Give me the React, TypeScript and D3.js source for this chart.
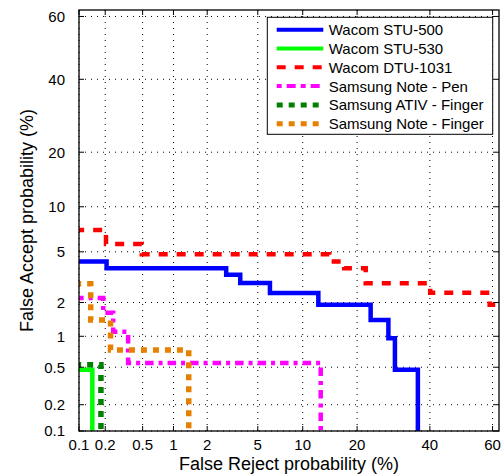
import React, { useEffect, useRef } from 'react';
import * as d3 from 'd3';

// tick values, in percent
const xTicks = [0.1, 0.2, 0.5, 1, 2, 5, 10, 20, 40, 60];
const yTicks = [0.1, 0.2, 0.5, 1, 2, 5, 10, 20, 40, 60];

// staircase corners (FRR %, FAR %), drawn with curveStepAfter
const stu500Frr = [0.09, 0.207, 2.87, 3.7, 6.1, 12.4, 23.2, 27.8, 29.6, 36.3];
const stu500Far = [4.24, 3.78, 3.36, 2.89, 2.4, 1.91, 1.41, 0.96, 0.47, 0.05];

const stu530Frr = [0.09, 0.143];
const stu530Far = [0.47, 0.05];

const dtu1031Frr = [0.09, 0.204, 0.49, 14.3, 17.2, 22.0, 40.1, 59.1, 70];
const dtu1031Far = [7.1, 5.69, 4.79, 4.25, 3.78, 2.88, 2.41, 1.91, 1.91];

const notePenFrr = [0.09, 0.19, 0.245, 0.354, 12.8];
const notePenFar = [2.18, 1.63, 1.1, 0.55, 0.05];

const ativFingerFrr = [0.09, 0.179];
const ativFingerFar = [0.53, 0.05];

const noteFingerFrr = [0.09, 0.137, 0.229, 1.38];
const noteFingerFar = [2.85, 1.41, 0.74, 0.05];

const seriesNames = [
  'Wacom STU-500',
  'Wacom STU-530',
  'Wacom DTU-1031',
  'Samsung Note - Pen',
  'Samsung ATIV - Finger',
  'Samsung Note - Finger'
];

// inverse normal CDF (Acklam)
const probit = (p: number) => {
  const a = [-39.69683028665376, 220.9460984245205, -275.9285104469687, 138.357751867269, -30.66479806614716, 2.506628277459239];
  const b = [-54.47609879822406, 161.5858368580409, -155.6989798598866, 66.80131188771972, -13.28068155288572];
  const c = [-0.007784894002430293, -0.3223964580411365, -2.400758277161838, -2.549732539343734, 4.374664141464968, 2.938163982698783];
  const d = [0.007784695709041462, 0.3224671290700398, 2.445134137142996, 3.754408661907416];
  const pl = 0.02425;
  let q, r;
  if (p < pl) {
    q = Math.sqrt(-2 * Math.log(p));
    return (((((c[0] * q + c[1]) * q + c[2]) * q + c[3]) * q + c[4]) * q + c[5]) /
      ((((d[0] * q + d[1]) * q + d[2]) * q + d[3]) * q + 1);
  }
  if (p <= 1 - pl) {
    q = p - 0.5;
    r = q * q;
    return (((((a[0] * r + a[1]) * r + a[2]) * r + a[3]) * r + a[4]) * r + a[5]) * q /
      (((((b[0] * r + b[1]) * r + b[2]) * r + b[3]) * r + b[4]) * r + 1);
  }
  q = Math.sqrt(-2 * Math.log(1 - p));
  return -(((((c[0] * q + c[1]) * q + c[2]) * q + c[3]) * q + c[4]) * q + c[5]) /
    ((((d[0] * q + d[1]) * q + d[2]) * q + d[3]) * q + 1);
};

const width = 503;
const height = 474;
const margin = { top: 10, right: 4, bottom: 43, left: 79 };

const DetChart = () => {
  const svgRef = useRef<SVGSVGElement>(null);

  useEffect(() => {
    const svg = d3.select(svgRef.current);
    svg.selectAll('*').remove();

    const x0 = margin.left;
    const x1 = width - margin.right;
    const y0 = height - margin.bottom;
    const y1 = margin.top;

    const xLin = d3.scaleLinear().domain([probit(0.001), probit(0.62)]).range([x0, x1]);
    const yLin = d3.scaleLinear().domain([probit(0.001), probit(0.62)]).range([y0, y1]);
    const x = (v: number) => xLin(probit(v / 100));
    const y = (v: number) => yLin(probit(v / 100));

    const font = 'Liberation Sans, Arial, Helvetica, sans-serif';

    svg.append('rect')
      .attr('x', x0).attr('y', y1)
      .attr('width', x1 - x0).attr('height', y0 - y1)
      .attr('fill', '#fff');

    svg.append('clipPath').attr('id', 'plot-clip')
      .append('rect')
      .attr('x', x0).attr('y', y1)
      .attr('width', x1 - x0).attr('height', y0 - y1);

    // Grid
    const grid = svg.append('g');
    grid.selectAll('.vgrid')
      .data(xTicks)
      .enter()
      .append('line')
      .attr('x1', d => x(d)).attr('x2', d => x(d))
      .attr('y1', y1).attr('y2', y0)
      .attr('stroke', '#000')
      .attr('stroke-width', 1)
      .attr('stroke-dasharray', '1,5');
    grid.selectAll('.hgrid')
      .data(yTicks)
      .enter()
      .append('line')
      .attr('y1', d => y(d)).attr('y2', d => y(d))
      .attr('x1', x0).attr('x2', x1)
      .attr('stroke', '#000')
      .attr('stroke-width', 1)
      .attr('stroke-dasharray', '1,5');

    // Curves
    const series = [
      { frr: stu500Frr, far: stu500Far, color: '#0000ff', dash: null, w: 4.5 },
      { frr: stu530Frr, far: stu530Far, color: '#00ff00', dash: null, w: 4.5 },
      { frr: dtu1031Frr, far: dtu1031Far, color: '#ff0000', dash: '9,9', w: 4.5 },
      { frr: notePenFrr, far: notePenFar, color: '#ff00ff', dash: '8.5,5,4,5', w: 4.5 },
      { frr: ativFingerFrr, far: ativFingerFar, color: '#008000', dash: '6,6', w: 5.5 },
      { frr: noteFingerFrr, far: noteFingerFar, color: '#e68000', dash: '6,6', w: 5.5 }
    ];

    const line = d3.line<[number, number]>()
      .x(d => x(d[0]))
      .y(d => y(d[1]))
      .curve(d3.curveStepAfter);

    const curves = svg.append('g').attr('clip-path', 'url(#plot-clip)');
    series.forEach(s => {
      const pts = s.frr.map((f, i) => [f, s.far[i]] as [number, number]);
      curves.append('path')
        .attr('d', line(pts))
        .attr('fill', 'none')
        .attr('stroke', s.color)
        .attr('stroke-width', s.w)
        .attr('stroke-dasharray', s.dash)
        .attr('stroke-linejoin', 'miter');
    });

    // Box and ticks
    svg.append('rect')
      .attr('x', x0).attr('y', y1)
      .attr('width', x1 - x0).attr('height', y0 - y1)
      .attr('fill', 'none')
      .attr('stroke', '#000')
      .attr('stroke-width', 1.3);

    const tl = 5;
    const ticks = svg.append('g').attr('stroke', '#000').attr('stroke-width', 1);
    xTicks.forEach(t => {
      ticks.append('line').attr('x1', x(t)).attr('x2', x(t)).attr('y1', y0).attr('y2', y0 - tl);
      ticks.append('line').attr('x1', x(t)).attr('x2', x(t)).attr('y1', y1).attr('y2', y1 + tl);
    });
    yTicks.forEach(t => {
      ticks.append('line').attr('y1', y(t)).attr('y2', y(t)).attr('x1', x0).attr('x2', x0 + tl);
      ticks.append('line').attr('y1', y(t)).attr('y2', y(t)).attr('x1', x1).attr('x2', x1 - tl);
    });

    // Tick labels
    svg.selectAll('.xlab')
      .data(xTicks)
      .enter()
      .append('text')
      .attr('x', d => x(d))
      .attr('y', 450)
      .attr('text-anchor', 'middle')
      .style('font-family', font)
      .style('font-size', '15px')
      .style('fill', '#000')
      .text(d => String(d));

    svg.selectAll('.ylab')
      .data(yTicks)
      .enter()
      .append('text')
      .attr('x', 65)
      .attr('y', d => y(d))
      .attr('dy', '0.36em')
      .attr('text-anchor', 'end')
      .style('font-family', font)
      .style('font-size', '15px')
      .style('fill', '#000')
      .text(d => String(d));

    // Axis titles
    svg.append('text')
      .attr('x', (x0 + x1) / 2)
      .attr('y', 470)
      .attr('text-anchor', 'middle')
      .style('font-family', font)
      .style('font-size', '18px')
      .style('fill', '#000')
      .text('False Reject probability (%)');

    svg.append('text')
      .attr('transform', `translate(32.5, ${(y0 + y1) / 2}) rotate(-90)`)
      .attr('text-anchor', 'middle')
      .style('font-family', font)
      .style('font-size', '18px')
      .style('fill', '#000')
      .text('False Accept probability (%)');

    // Legend
    const legend = svg.append('g');
    legend.append('rect')
      .attr('x', 267.3).attr('y', 17.3)
      .attr('width', 225.4).attr('height', 117)
      .attr('fill', '#fff')
      .attr('stroke', '#000')
      .attr('stroke-width', 1);

    const legendDash = ['', '', '9,9', '5,5,9,5', '6,6', '6,6'];
    const items = legend.selectAll('.legend-item')
      .data(series)
      .enter()
      .append('g')
      .attr('transform', (d, i) => `translate(0, ${29.7 + i * 18.8})`);

    items.append('line')
      .attr('x1', 276.7).attr('x2', 323.3)
      .attr('y1', 0).attr('y2', 0)
      .attr('stroke', d => d.color)
      .attr('stroke-width', d => d.w - 0.5)
      .attr('stroke-dasharray', (d, i) => legendDash[i] || null);

    items.append('text')
      .attr('x', 328.7)
      .attr('y', 0)
      .attr('dy', '0.36em')
      .style('font-family', font)
      .style('font-size', '15px')
      .style('fill', '#000')
      .text((d, i) => seriesNames[i]);
  }, []);

  return (
    <svg
      ref={svgRef}
      width={width}
      height={height}
      style={{ position: 'absolute', left: 0, top: 0, background: '#fff' }}
    />
  );
};

export default function App() {
  return <DetChart />;
}
